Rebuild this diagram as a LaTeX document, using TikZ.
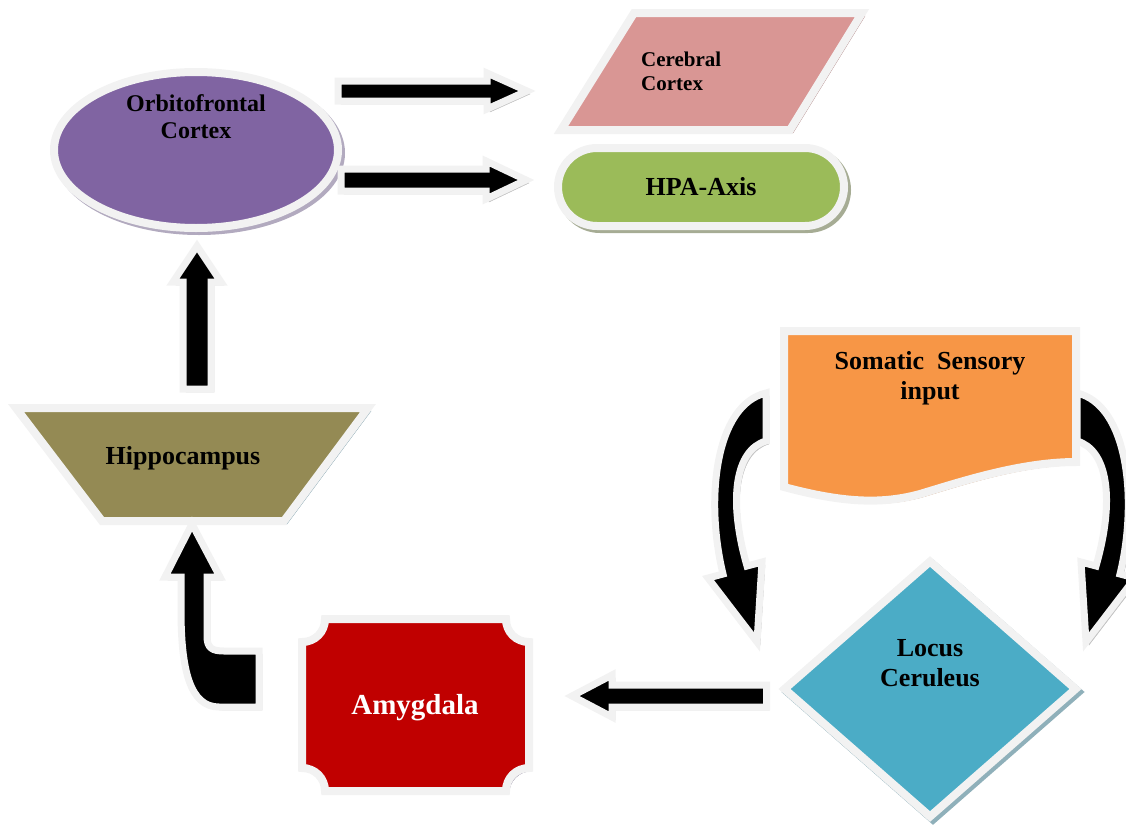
\documentclass[tikz,border=0pt]{standalone}
\usepackage{fontspec}
\setmainfont{Liberation Serif}
\usetikzlibrary{positioning,calc,shapes.geometric,shadows}

\definecolor{bord}{HTML}{F2F2F2}
\definecolor{ofcfill}{HTML}{8064A2}
\definecolor{ofcshadow}{HTML}{B2AABF}
\definecolor{ccfill}{HTML}{D99694}
\definecolor{ccshadow}{HTML}{B89494}
\definecolor{hpafill}{HTML}{9BBB59}
\definecolor{hpashadow}{HTML}{A6AC94}
\definecolor{hipfill}{HTML}{948A54}
\definecolor{hipshadow}{HTML}{93AEB8}
\definecolor{amyfill}{HTML}{C00000}
\definecolor{amyshadow}{HTML}{A9A3B5}
\definecolor{somfill}{HTML}{F79646}
\definecolor{somshadow}{HTML}{D2A684}
\definecolor{lcfill}{HTML}{4BACC6}
\definecolor{lcshadow}{HTML}{8FB0BA}
\definecolor{arrowgrey}{HTML}{BFBFBF}

\tikzset{
  plate/.style={draw=bord, line width=8pt, inner sep=0pt, outer sep=0pt},
  dropped/.style={drop shadow={shadow xshift=3pt, shadow yshift=-3pt, fill=#1, draw=#1, opacity=1}},
  txt/.style={font=\fontsize{26}{30}\selectfont\bfseries, align=center, inner sep=0pt},
  barrow/.style={fill=black, draw=bord, line width=7pt,
    drop shadow={shadow xshift=3pt, shadow yshift=-3pt, fill=arrowgrey, draw=arrowgrey, opacity=1}}
}

% straight block arrow: shaft half width, head half width, head length, from, to
\newcommand{\blockarrow}[5]{%
  \coordinate (n) at ($(#5)!#3pt!(#4)$);
  \coordinate (t1) at ($(#4)!#1pt!90:(#5)$);
  \coordinate (t2) at ($(#4)!#1pt!-90:(#5)$);
  \coordinate (s1) at ($(n)!#1pt!90:(#5)$);
  \coordinate (s2) at ($(n)!#1pt!-90:(#5)$);
  \coordinate (h1) at ($(n)!#2pt!90:(#5)$);
  \coordinate (h2) at ($(n)!#2pt!-90:(#5)$);
  \draw[barrow] (t1) -- (s1) -- (h1) -- (#5) -- (h2) -- (s2) -- (t2) -- cycle;
}

\begin{document}
\begin{tikzpicture}[x=1pt, y=-1pt]
\useasboundingbox (0,0) rectangle (1126,827);

% boxes
\node[plate, ellipse, fill=ofcfill, dropped=ofcshadow, minimum width=284, minimum height=156,
  label={[txt, font=\fontsize{24}{27}\selectfont\bfseries, yshift=33pt]center:Orbitofrontal\\Cortex}] (ofc) at (196,150) {};

\draw[plate, fill=ccfill, dropped=ccshadow] (634,13) -- (862,13) -- (790,130) -- (561,130) -- cycle;
\node[txt, font=\fontsize{21}{24}\selectfont\bfseries, align=left, anchor=west] (cc) at (641,71) {Cerebral\\Cortex};

\node[plate, txt, rounded corners=39pt, fill=hpafill, dropped=hpashadow, minimum width=286, minimum height=78] (hpa) at (701,187) {HPA-Axis};

\draw[plate, fill=hipfill, dropped=hipshadow] (16,408) -- (368,408) -- (284,521) -- (102,521) -- cycle;
\node[txt] (hip) at (183,458) {Hippocampus};

\draw[plate, fill=amyfill, dropped=amyshadow] (325,619) -- (506,619) .. controls (506,632) and (516,642) .. (529,642)
  -- (529,768) .. controls (516,768) and (506,778) .. (506,791)
  -- (325,791) .. controls (325,778) and (315,768) .. (302,768)
  -- (302,642) .. controls (315,642) and (325,632) .. (325,619) -- cycle;
\node[txt, text=white, font=\fontsize{29}{33}\selectfont\bfseries] (amy) at (415,708) {Amygdala};

\draw[plate, fill=somfill, dropped=somshadow] (784,331) -- (1076,331) -- (1076,462)
  .. controls (1020,462) and (960,482) .. (920,494) .. controls (880,505) and (840,502) .. (784,487) -- cycle;
\node[txt] (som) at (930,378) {Somatic~~Sensory\\input};

\node[plate, diamond, fill=lcfill, dropped=lcshadow, minimum width=291, minimum height=255,
  label={[txt, yshift=26pt]center:Locus\\Ceruleus}] (lc) at (930,689) {};

% arrow ends
\coordinate (ofc-a) at ([yshift=59pt]ofc.east);
\coordinate (cc-a) at (527,91);
\coordinate (ofc-b) at ([shift={(3pt,-30pt)}]ofc.east);
\coordinate (hpa-b) at ([shift={(-32pt,7pt)}]hpa.west);
\coordinate (hip-c) at (197,389);
\coordinate (ofc-c) at ([shift={(1pt,-18pt)}]ofc.south);
\coordinate (lc-e) at ([shift={(-18pt,-7pt)}]lc.west);
\coordinate (amy-e) at (572,696);

% arrows
\blockarrow{10}{18}{40}{ofc-a}{cc-a}
\blockarrow{11}{19}{40}{ofc-b}{hpa-b}
\blockarrow{14}{24}{36}{hip-c}{ofc-c}
\blockarrow{11}{21}{40}{lc-e}{amy-e}

% amygdala to hippocampus
\draw[barrow] (192,524) -- (220,577) -- (207,577) -- (207,636) .. controls (207,648) and (212,651) .. (224,651)
  -- (259,651) -- (259,707) -- (219,707) .. controls (190,707) and (181,670) .. (181,610) -- (181,577) -- (165,577) -- cycle;

% somatic input to locus ceruleus
\draw[barrow] (766,393) .. controls (715,405) and (705,500) .. (723,574) -- (708,578) -- (757,642)
  -- (762,562) -- (747,566) .. controls (728,500) and (735,450) .. (766,441) -- cycle;
\draw[barrow] (1077,393) .. controls (1128,405) and (1138,500) .. (1120,574) -- (1135,578) -- (1086,642)
  -- (1081,562) -- (1096,566) .. controls (1115,500) and (1108,450) .. (1077,441) -- cycle;
\end{tikzpicture}
\end{document}
